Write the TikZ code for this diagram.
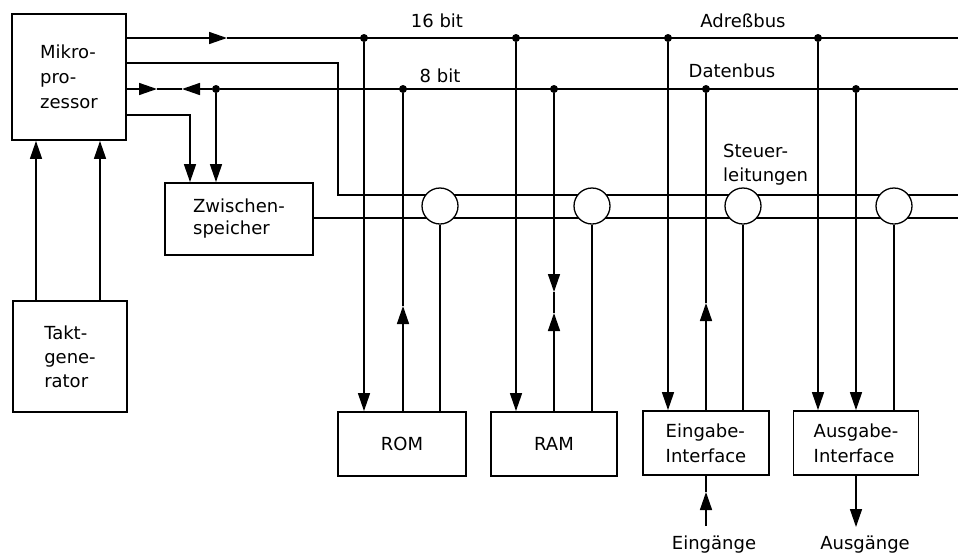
\documentclass[tikz,border=0pt]{standalone}
\usepackage{fontspec}
\setmainfont{DejaVu Sans}
\usetikzlibrary{arrows.meta}
\tikzset{
  blk/.style={draw, line width=1.8pt, rectangle, inner sep=0pt, align=left},
  wire/.style={line width=1.5pt},
  arr/.style={wire, -{Triangle[length=18pt,width=12pt]}},
  ring/.style={draw, circle, line width=1.3pt, fill=white, minimum size=36pt, inner sep=0pt},
  dot/.style={fill, circle, inner sep=0pt, minimum size=8pt},
  lbl/.style={inner sep=0pt, align=left}
}
\begin{document}
\begin{tikzpicture}[x=1pt,y=-1pt,font=\fontsize{18}{24}\selectfont]
\useasboundingbox (0,0) rectangle (958,555);
% boxes
\node[blk, minimum width=114pt, minimum height=126pt, font=\fontsize{18}{25}\selectfont] (mp) at (69,77) {Mikro-\\pro-\\zessor};
\node[blk, minimum width=114pt, minimum height=111pt] (tg) at (70,356.5) {Takt-\\gene-\\rator};
\node[blk, minimum width=148pt, minimum height=72pt, font=\fontsize{18}{22}\selectfont] (zw) at (239,219) {Zwischen-\\speicher};
\node[blk, minimum width=128pt, minimum height=64pt] (rom) at (402,444) {ROM};
\node[blk, minimum width=126pt, minimum height=64pt] (ram) at (554,444) {RAM};
\node[blk, minimum width=126pt, minimum height=64pt, font=\fontsize{18}{25}\selectfont] (ein) at (706,443) {Eingabe-\\Interface};
\node[blk, minimum width=125pt, minimum height=64pt, font=\fontsize{18}{25}\selectfont] (aus) at (856,443) {Ausgabe-\\Interface};
% coordinates
\coordinate (aR) at (958,38);
\coordinate (dR) at (958,89);
\coordinate (sR1) at (958,195);
\coordinate (sR2) at (958,218);
\coordinate (aArr) at (227,38);
\coordinate (dArr1) at (157,89);
\coordinate (dArr2) at (182,89);
\coordinate (sBend1) at (338,63);
\coordinate (sBend2) at (338,195);
\coordinate (zBend) at (190,115);
% address bus
\draw[arr] (mp.east |- aR) -- (aArr);
\draw[wire] (aArr) -- (aR);
% upper control line
\draw[wire] (mp.east |- sBend1) -- (sBend1) -- (sBend2) -- (sR1);
% data bus
\draw[arr] (mp.east |- dR) -- (dArr1);
\draw[wire] (dArr1) -- (dArr2);
\node[dot] (d0) at (216,89) {};
\draw[arr] (d0) -- (dArr2);
\draw[wire] (d0) -- (dR);
% to Zwischenspeicher
\draw[arr] (mp.east |- zBend) -| (zw.north -| zBend);
\draw[arr] (d0) -- (d0 |- zw.north);
% lower control line
\draw[wire] (zw.east |- sR2) -- (sR2);
% clock
\draw[arr] (tg.north -| 36,0) -- (mp.south -| 36,0);
\draw[arr] (tg.north -| 100,0) -- (mp.south -| 100,0);
% dots
\node[dot] (a1) at (364,38) {};
\node[dot] (a2) at (516,38) {};
\node[dot] (a3) at (668,38) {};
\node[dot] (a4) at (818,38) {};
\node[dot] (d1) at (403,89) {};
\node[dot] (d2) at (554,89) {};
\node[dot] (d3) at (706,89) {};
\node[dot] (d4) at (856,89) {};
% address lines
\draw[arr] (a1) -- (a1 |- rom.north);
\draw[arr] (a2) -- (a2 |- ram.north);
\draw[arr] (a3) -- (a3 |- ein.north);
\draw[arr] (a4) -- (a4 |- aus.north);
% data lines
\coordinate (t1) at (403,306);
\draw[arr] (d1 |- rom.north) -- (t1);
\draw[wire] (t1) -- (d1);
\coordinate (t2a) at (554,292);
\coordinate (t2b) at (554,313);
\draw[arr] (d2) -- (t2a);
\draw[wire] (t2a) -- (t2b);
\draw[arr] (d2 |- ram.north) -- (t2b);
\coordinate (t3) at (706,303);
\draw[arr] (d3 |- ein.north) -- (t3);
\draw[wire] (t3) -- (d3);
\draw[arr] (d4) -- (d4 |- aus.north);
% control rings
\node[ring] (c1) at (440,206) {};
\node[ring] (c2) at (592,206) {};
\node[ring] (c3) at (743,206) {};
\node[ring] (c4) at (894,206) {};
\draw[wire] (c1.south) -- (c1.south |- rom.north);
\draw[wire] (c2.south) -- (c2.south |- ram.north);
\draw[wire] (c3.south) -- (c3.south |- ein.north);
\draw[wire] (c4.south) -- (c4.south |- aus.north);
% inputs / outputs
\coordinate (eIn) at (706,526);
\coordinate (eTip) at (706,492);
\draw[arr] (eIn) -- (eTip);
\draw[wire] (eTip) -- (ein.south);
\coordinate (aOut) at (856,527);
\draw[arr] (aus.south) -- (aOut);
% labels
\node[lbl] (l16) at (437,21) {16 bit};
\node[lbl] (lab) at (743,21) {Adreßbus};
\node[lbl] (l8) at (440,76) {8 bit};
\node[lbl] (ldb) at (732,71) {Datenbus};
\node[lbl, anchor=west] (lst) at (723,165) {Steuer-\\leitungen};
\node[lbl] (lein) at (714,545) {Eingänge};
\node[lbl] (laus) at (865,545) {Ausgänge};
\end{tikzpicture}
\end{document}
